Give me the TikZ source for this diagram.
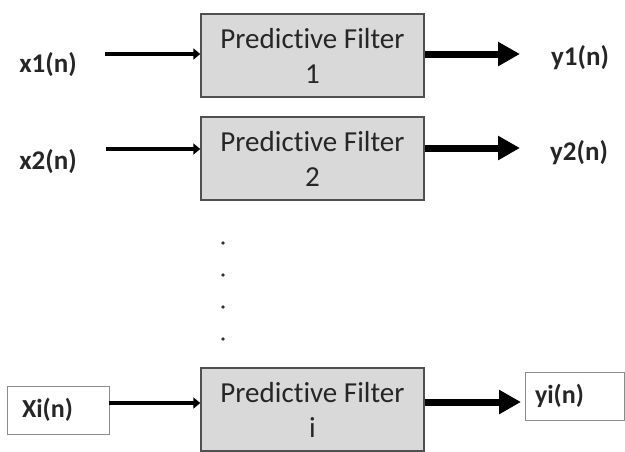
\documentclass[tikz,border=0pt]{standalone}
\usepackage{fontspec}
\setmainfont{Carlito}[Ligatures=NoCommon]
\usetikzlibrary{arrows.meta}
\definecolor{boxfill}{HTML}{D9D9D9}
\definecolor{boxline}{HTML}{505050}
\tikzset{
  filterbox/.style={draw=boxline, fill=boxfill, line width=1.4pt, minimum width=223pt, minimum height=83pt,
    inner sep=0pt, align=center, font=\fontsize{29}{35}\selectfont, text=black!85},
  lbl/.style={font=\bfseries\fontsize{27}{30}\selectfont, text=black!85, inner sep=0pt},
  lblbox/.style={draw=black!45, line width=0.8pt, fill=white, minimum height=48pt, align=left,
    font=\bfseries\fontsize{26}{30}\selectfont, text=black!85},
  inarrow/.style={line width=3.6pt, -{Triangle[length=7pt,width=11pt]}},
  outarrow/.style={line width=7pt, -{Triangle[length=22pt,width=23pt]}},
  dotmark/.style={fill=black!80}
}
\begin{document}
\begin{tikzpicture}[x=1pt,y=-1pt]
\useasboundingbox (0,0) rectangle (625,451);
% filters
\node[filterbox] (f1) at (312.5,55.5) {Predictive Filter\\1};
\node[filterbox] (f2) at (312.5,158.5) {Predictive Filter\\2};
\node[filterbox] (fi) at (312.5,409.5) {Predictive Filter\\i};
% input labels
\node[lbl] (x1) at (48,65) {x1(n)};
\node[lbl] (x2) at (48,162) {x2(n)};
\node[lblbox, text width=72pt, inner xsep=15pt] (xi) at (58,410) {Xi(n)};
% output labels
\node[lbl] (y1) at (580,58) {y1(n)};
\node[lbl] (y2) at (579,153) {y2(n)};
\node[lblbox, text width=79pt, inner xsep=10pt] (yi) at (574.5,396) {yi(n)};
% coordinates
\coordinate (a1) at (105,54);
\coordinate (a2) at (106,149);
\coordinate (b1) at (520,54);
\coordinate (b2) at (520,148);
\coordinate (bi) at (521,402);
% arrows
\draw[inarrow] (a1) -- (a1 -| f1.west);
\draw[inarrow] (a2) -- (a2 -| f2.west);
\draw[inarrow] (xi.east |- 0,403) -- (fi.west |- 0,403);
\draw[outarrow] (f1.east |- b1) -- (b1);
\draw[outarrow] (f2.east |- b2) -- (b2);
\draw[outarrow] (fi.east |- bi) -- (bi);
% dots
\foreach \yy in {243,275,307,339} \fill[dotmark] (223,\yy) circle (1.8pt);
\end{tikzpicture}
\end{document}
